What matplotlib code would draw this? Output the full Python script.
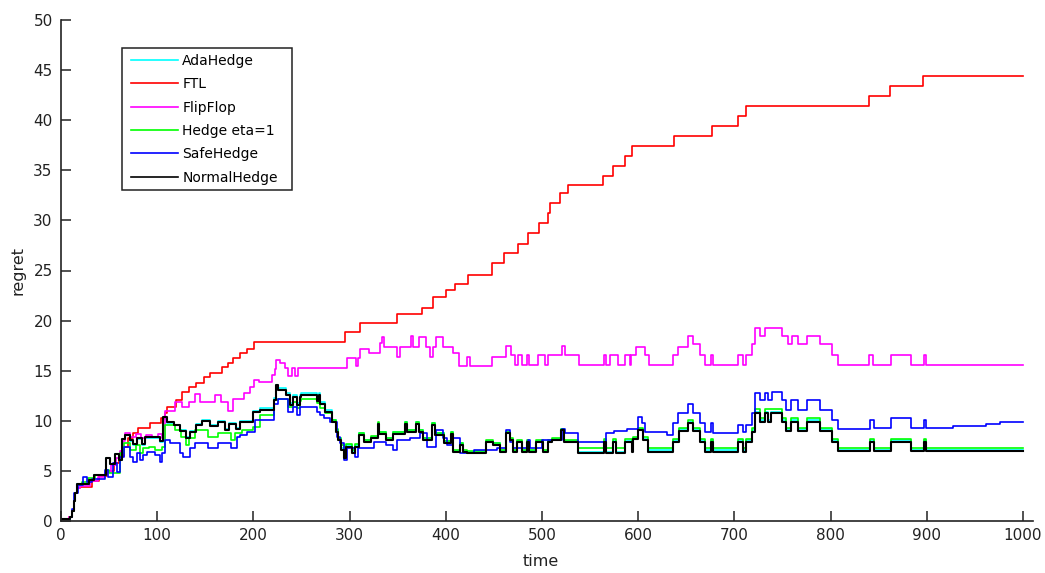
import matplotlib
matplotlib.use("Agg")
import matplotlib.pyplot as plt
from matplotlib.patches import Rectangle

plt.rcParams['font.family'] = ['DejaVu Sans']

# ---- data: step change points (time, regret) ----
ftl_t = [0, 8, 11, 13, 15, 17, 20, 32, 40, 48, 55, 60, 65, 70, 75, 80, 92, 104, 108, 110, 120, 126, 133, 140,
         149, 155, 167, 174, 179, 186, 193, 201, 295, 311, 349, 375, 387, 400, 410, 423, 448, 460, 475, 485,
         497, 506, 508, 519, 527, 563, 574, 586, 594, 637, 677, 704, 712, 840, 862, 896, 1000]
ftl_v = [0.2, 0.4, 1.0, 2.0, 2.8, 3.3, 3.4, 4.0, 4.5, 5.0, 5.8, 6.5, 7.4, 8.3, 8.8, 9.3, 9.8, 10.3, 10.8, 11.4,
         12.1, 12.9, 13.4, 13.8, 14.4, 14.8, 15.4, 15.8, 16.3, 16.8, 17.2, 17.9, 18.9, 19.8, 20.7, 21.3, 22.4,
         23.1, 23.7, 24.6, 25.7, 26.7, 27.6, 28.7, 29.7, 30.7, 31.7, 32.7, 33.5, 34.4, 35.4, 36.4, 37.4, 38.4,
         39.4, 40.4, 41.4, 42.4, 43.4, 44.4, 44.4]

ff_t = [0, 8, 11, 13, 15, 17, 20, 30, 38, 46, 52, 57, 61, 64, 67, 72, 78, 83, 88, 95, 101, 105, 108, 119, 126,
        133, 139, 145, 160, 166, 174, 179, 190, 196, 201, 206, 219, 222, 224, 228, 233, 236, 240, 243, 246, 297,
        307, 309, 311, 320, 332, 334, 336, 349, 352, 364, 366, 372, 379, 384, 387, 390, 397, 408, 414, 422, 425,
        448, 463, 468, 472, 475, 479, 484, 487, 496, 503, 506, 521, 524, 538, 564, 567, 571, 579, 586, 591, 593,
        598, 607, 611, 636, 641, 652, 657, 664, 669, 676, 678, 704, 709, 712, 718, 721, 727, 732, 750, 756, 760,
        766, 776, 789, 801, 808, 840, 844, 863, 884, 897, 899, 1000]
ff_v = [0.2, 0.4, 1.0, 2.0, 2.8, 3.3, 3.5, 4.0, 4.4, 4.9, 5.6, 6.3, 7.0, 8.0, 8.8, 8.4, 8.7, 8.3, 8.6, 8.4, 8.7,
        8.3, 11.0, 11.9, 11.4, 11.9, 12.7, 11.9, 12.6, 11.9, 11.0, 12.2, 12.8, 13.4, 14.1, 13.9, 14.6, 15.2, 16.1,
        15.8, 15.3, 14.5, 15.3, 14.5, 15.3, 16.3, 15.5, 16.3, 17.2, 16.8, 17.8, 18.4, 17.4, 16.4, 17.4, 18.5,
        17.4, 18.4, 17.4, 16.4, 17.4, 18.4, 17.4, 16.8, 15.5, 16.4, 15.5, 16.4, 17.5, 16.6, 15.6, 16.6, 15.6,
        16.6, 15.6, 16.6, 15.6, 16.6, 17.5, 16.6, 15.6, 16.6, 15.6, 16.6, 15.6, 16.6, 15.6, 16.6, 17.4, 16.6,
        15.6, 16.6, 17.4, 18.5, 17.7, 16.6, 15.6, 16.6, 15.6, 16.6, 15.6, 16.6, 17.7, 19.3, 18.5, 19.3, 18.5,
        17.7, 18.5, 17.7, 18.5, 17.7, 16.6, 15.6, 16.6, 15.6, 16.6, 15.6, 16.6, 15.6, 15.6]

nh_t = [0, 9, 11, 13, 15, 17, 29, 34, 47, 51, 56, 60, 63, 67, 72, 75, 79, 84, 87, 103, 106, 110, 117, 124, 130,
        134, 140, 147, 155, 163, 170, 175, 182, 186, 200, 207, 221, 224, 226, 234, 238, 241, 245, 248, 250, 266,
        268, 269, 274, 282, 286, 288, 291, 294, 296, 303, 306, 310, 315, 322, 330, 331, 338, 345, 358, 360, 369,
        372, 376, 386, 389, 398, 405, 408, 415, 418, 422, 442, 449, 456, 463, 467, 470, 474, 479, 484, 487, 494,
        501, 506, 510, 520, 523, 537, 564, 567, 574, 577, 586, 594, 595, 600, 605, 610, 636, 642, 652, 657, 664,
        669, 676, 678, 704, 709, 712, 718, 721, 727, 732, 735, 738, 749, 754, 759, 766, 776, 789, 801, 808, 841,
        845, 863, 884, 897, 899, 1000]
nh_v = [0.2, 0.4, 1.0, 2.0, 2.8, 3.7, 4.1, 4.6, 6.3, 5.7, 6.7, 6.1, 8.2, 8.6, 8.1, 7.7, 8.3, 7.7, 8.4, 8.0, 10.4,
        9.9, 9.6, 9.0, 8.3, 8.9, 9.6, 10.0, 9.5, 9.9, 9.1, 9.7, 9.2, 9.9, 10.9, 11.1, 12.1, 13.6, 13.1, 12.6,
        11.6, 12.4, 11.6, 12.4, 12.6, 12.0, 12.6, 11.7, 10.9, 9.9, 8.9, 8.1, 7.1, 6.3, 7.4, 6.75, 7.4, 8.6, 7.9,
        8.25, 9.7, 8.7, 8.1, 8.7, 9.7, 8.9, 9.7, 8.9, 8.1, 9.6, 8.6, 7.8, 8.7, 6.9, 7.6, 6.9, 6.75, 7.9, 7.6,
        6.9, 8.75, 8.1, 6.9, 7.9, 6.9, 7.9, 6.9, 7.9, 6.9, 7.9, 8.1, 9.1, 7.9, 6.75, 7.9, 6.75, 7.9, 6.75, 7.9,
        6.9, 8.2, 9.1, 8.1, 6.9, 7.9, 9.0, 9.75, 9.0, 7.9, 6.9, 7.9, 6.9, 7.9, 6.9, 7.9, 8.9, 10.75, 9.9, 10.75,
        9.9, 10.75, 9.9, 9.0, 9.9, 9.0, 9.9, 9.0, 7.9, 6.95, 7.9, 6.95, 7.9, 6.95, 7.9, 6.95, 6.95]

ah_t = [0, 9, 11, 13, 15, 17, 29, 34, 47, 51, 56, 60, 63, 67, 72, 75, 79, 84, 87, 103, 106, 110, 117, 124, 130,
        134, 140, 147, 155, 163, 170, 175, 182, 186, 200, 207, 221, 224, 226, 234, 238, 241, 245, 248, 250, 266,
        268, 269, 274, 282, 286, 288, 291, 294, 296, 303, 306, 310, 315, 322, 330, 331, 338, 345, 358, 360, 369,
        372, 376, 386, 389, 398, 405, 408, 415, 418, 422, 442, 449, 456, 463, 467, 470, 474, 479, 484, 487, 494,
        501, 506, 510, 520, 523, 537, 564, 567, 574, 577, 586, 594, 595, 600, 605, 610, 636, 642, 652, 657, 664,
        669, 676, 678, 704, 709, 712, 718, 721, 727, 732, 735, 738, 749, 754, 759, 766, 776, 789, 801, 808, 841,
        845, 863, 884, 897, 899, 1000]
ah_v = [0.2, 0.4, 1.0, 2.0, 2.8, 3.7, 4.1, 4.6, 6.3, 5.7, 6.7, 6.1, 8.2, 8.6, 8.0, 7.6, 8.2, 7.6, 8.3, 7.9, 10.2,
        9.8, 9.6, 9.1, 8.4, 9.0, 9.7, 10.1, 9.6, 10.0, 9.2, 9.8, 9.3, 10.0, 11.0, 11.25, 12.25, 13.6, 13.25,
        12.8, 11.75, 12.55, 11.75, 12.55, 12.8, 12.15, 12.8, 11.85, 11.05, 10.05, 9.05, 8.25, 7.25, 6.5, 7.55,
        6.9, 7.55, 8.75, 8.05, 8.4, 9.8, 8.85, 8.25, 8.85, 9.85, 9.05, 9.85, 9.05, 8.25, 9.75, 8.75, 7.95, 8.85,
        7.0, 7.75, 7.0, 6.85, 8.0, 7.75, 7.0, 8.85, 8.2, 7.0, 8.0, 7.0, 8.0, 7.0, 8.0, 7.0, 8.0, 8.2, 9.15, 8.0,
        6.9, 8.0, 6.9, 8.0, 6.9, 8.0, 7.0, 8.3, 9.2, 8.2, 7.1, 8.1, 9.15, 9.9, 9.15, 8.1, 7.1, 8.1, 7.1, 8.1,
        7.1, 8.1, 9.1, 10.9, 10.05, 10.9, 10.05, 10.9, 10.05, 9.15, 10.05, 9.15, 10.05, 9.15, 8.05, 7.1, 8.05,
        7.1, 8.05, 7.1, 8.05, 7.1, 7.1]

he_t = [0, 9, 11, 13, 15, 17, 22, 28, 35, 47, 50, 61, 65, 72, 78, 82, 85, 91, 98, 105, 108, 119, 125, 130, 133,
        139, 153, 163, 177, 181, 188, 200, 207, 221, 226, 236, 241, 245, 248, 250, 266, 269, 274, 282, 286, 288,
        291, 294, 296, 303, 306, 310, 315, 322, 330, 331, 338, 345, 358, 360, 369, 372, 376, 386, 389, 398, 405,
        408, 415, 418, 422, 442, 449, 456, 463, 467, 470, 474, 479, 484, 487, 494, 501, 506, 510, 520, 523, 537,
        564, 567, 574, 577, 586, 594, 595, 600, 605, 610, 636, 642, 652, 657, 664, 669, 676, 678, 704, 709, 712,
        718, 721, 727, 732, 749, 754, 759, 766, 776, 789, 801, 808, 841, 845, 863, 884, 897, 899, 1000]
he_v = [0.2, 0.4, 1.0, 2.0, 2.8, 3.6, 3.9, 4.3, 4.6, 5.1, 4.8, 6.75, 7.75, 7.1, 7.6, 6.75, 7.25, 7.4, 7.1, 7.4,
        9.6, 9.1, 8.4, 7.6, 8.25, 9.1, 8.4, 8.75, 8.1, 8.75, 9.1, 9.4, 10.6, 12.1, 12.2, 11.4, 11.9, 11.3, 12.0,
        12.2, 11.8, 11.25, 10.75, 10.1, 9.2, 8.3, 7.6, 7.0, 7.7, 7.1, 7.7, 8.8, 8.1, 8.5, 9.9, 8.9, 8.3, 8.9, 9.9,
        9.1, 9.9, 9.1, 8.3, 9.8, 8.8, 8.0, 8.9, 7.1, 7.8, 7.1, 7.0, 8.1, 7.8, 7.1, 8.9, 8.3, 7.1, 8.1, 7.1, 8.1,
        7.1, 8.1, 7.1, 8.1, 8.3, 9.2, 8.1, 7.3, 8.2, 7.3, 8.2, 7.3, 8.2, 7.3, 8.4, 9.3, 8.4, 7.25, 8.2, 9.3,
        10.1, 9.3, 8.2, 7.25, 8.2, 7.25, 8.2, 7.25, 8.2, 9.3, 11.15, 10.25, 11.15, 10.25, 9.3, 10.25, 9.3, 10.25,
        9.3, 8.2, 7.25, 8.2, 7.25, 8.2, 7.25, 8.2, 7.25, 7.25]

sh_t = [0, 9, 11, 13, 14, 18, 23, 27, 32, 46, 49, 54, 58, 61, 65, 72, 75, 79, 82, 85, 89, 98, 103, 105, 108, 113,
        124, 127, 134, 139, 153, 163, 177, 183, 186, 193, 202, 221, 226, 236, 241, 245, 248, 266, 269, 273, 280,
        287, 290, 294, 297, 306, 309, 325, 338, 345, 349, 363, 373, 380, 390, 397, 401, 408, 415, 429, 453, 463,
        467, 470, 485, 488, 500, 521, 524, 537, 567, 575, 588, 600, 604, 607, 630, 636, 641, 652, 657, 664, 669,
        676, 678, 704, 709, 712, 718, 721, 727, 732, 735, 739, 749, 754, 759, 766, 776, 789, 801, 808, 841, 845,
        863, 884, 897, 899, 927, 962, 976, 1000]
sh_v = [0.2, 0.4, 1.2, 2.2, 2.8, 3.6, 4.4, 3.9, 4.2, 5.1, 4.4, 5.75, 4.9, 6.4, 7.4, 6.4, 5.9, 6.75, 6.1, 6.6, 6.9,
        6.6, 5.9, 6.75, 8.1, 7.75, 6.75, 6.4, 7.25, 7.75, 7.25, 7.75, 7.3, 8.4, 8.6, 8.9, 10.1, 11.7, 12.2, 10.9,
        11.4, 10.6, 11.4, 10.9, 10.6, 10.25, 9.9, 8.4, 7.75, 6.1, 7.25, 6.4, 7.25, 7.9, 7.6, 7.1, 8.1, 8.25,
        8.75, 7.4, 9.1, 8.25, 7.6, 8.25, 6.75, 7.1, 7.25, 9.1, 7.9, 7.25, 8.1, 7.25, 8.1, 9.2, 8.75, 7.85, 8.8,
        9.0, 9.2, 10.4, 9.75, 8.9, 8.6, 9.75, 10.75, 11.7, 10.75, 9.75, 8.9, 9.75, 8.8, 9.6, 8.9, 9.6, 10.75,
        12.75, 12.1, 12.75, 12.1, 12.9, 12.1, 11.1, 12.1, 11.1, 12.1, 11.1, 10.1, 9.2, 10.1, 9.25, 10.3, 9.25,
        10.1, 9.25, 9.5, 9.7, 9.85, 9.9]

labels = ['AdaHedge', 'FTL', 'FlipFlop', 'Hedge eta=1', 'SafeHedge', 'NormalHedge']
colors = ['#00FFFF', '#FF0000', '#FF00FF', '#00FF00', '#0000FF', '#000000']
x_ticks = [0, 100, 200, 300, 400, 500, 600, 700, 800, 900, 1000]
y_ticks = [0, 5, 10, 15, 20, 25, 30, 35, 40, 45, 50]

series = [(ah_t, ah_v), (ftl_t, ftl_v), (ff_t, ff_v), (he_t, he_v), (sh_t, sh_v), (nh_t, nh_v)]

W, H = 1045, 573
fig = plt.figure(figsize=(W / 100, H / 100), dpi=100)
ax = fig.add_axes([61 / W, 1 - 521 / H, 971.6 / W, 501 / H])

for (t, v), lab, col in zip(series, labels, colors):
    lw = 1.5 if col == '#000000' else 1.2
    ax.step(t, v, where='post', color=col, lw=lw, label=lab, zorder=2)

ax.set_xlim(0, 1010)
ax.set_ylim(0, 50)
ax.set_xticks(x_ticks)
ax.set_yticks(y_ticks)
for s in ['top', 'right']:
    ax.spines[s].set_visible(False)
for s in ['left', 'bottom']:
    ax.spines[s].set_color('#222222')
    ax.spines[s].set_linewidth(1.2)
ax.tick_params(direction='in', length=7, width=1.1, color='#222222', labelsize=11, labelcolor='#222222')
ax.tick_params(axis='y', pad=6)
ax.tick_params(axis='x', pad=5)

ax.set_xlabel('time', fontsize=11.5, color='#222222')
ax.set_ylabel('regret', fontsize=11.5, color='#222222')
ax.xaxis.set_label_coords(0.494, -0.066)
ax.yaxis.set_label_coords(-0.037, 0.5)

# legend box (MATLAB-like padding: wider on the right)
box = Rectangle((122 / W, 1 - 190 / H), 170 / W, 142 / H, transform=fig.transFigure,
                facecolor='white', edgecolor='#222222', linewidth=1.1, zorder=4, clip_on=False)
ax.add_patch(box)
leg = ax.legend(loc='upper left', bbox_to_anchor=((131 - 61) / 971.6, (521 - 54) / 501), borderaxespad=0,
                fontsize=10, handlelength=3.4, handletextpad=0.3, labelspacing=0.67, borderpad=0.0,
                frameon=False)
leg.set_zorder(6)
for line in leg.get_lines():
    line.set_linewidth(1.2)

fig.savefig('out.png', dpi=100)
